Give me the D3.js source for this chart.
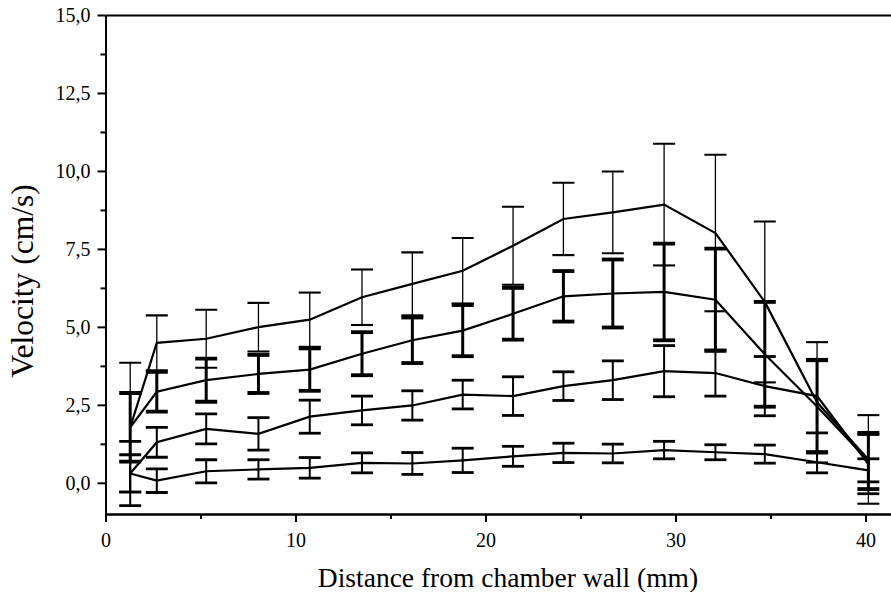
<!doctype html>
<html>

<head>
    <style>
        body {
            margin: 0;
            background: #fff;
        }

        svg text {
            font-family: "Liberation Serif", "DejaVu Serif", serif;
            fill: #000;
        }

        .axis path,
        .axis line {
            stroke: #000;
            stroke-width: 2px;
        }

        .axis text {
            font-size: 20px;
        }

        .series {
            fill: none;
            stroke: #000;
            stroke-width: 2.2px;
        }
    </style>
    <script src="https://d3js.org/d3.v7.min.js"></script>
</head>

<body>
    <script>
        // distance from wall (mm)
        const distance = [1.3, 2.7, 5.3, 8.05, 10.75, 13.5, 16.15, 18.8, 21.45, 24.1, 26.7, 29.4, 32.1, 34.7, 37.45, 40.15]

        // mean velocity (cm/s) and error per series, top to bottom
        const velA = [1.78, 4.49, 4.62, 4.99, 5.23, 5.95, 6.38, 6.80, 7.60, 8.46, 8.67, 8.92, 8.01, 5.80, 2.58, 0.75]
        const errA = [2.07, 0.88, 0.93, 0.78, 0.87, 0.89, 1.01, 1.05, 1.25, 1.16, 1.31, 1.95, 2.51, 2.58, 1.93, 1.42]

        const velB = [1.78, 2.92, 3.29, 3.49, 3.63, 4.14, 4.57, 4.88, 5.42, 5.98, 6.07, 6.12, 5.87, 4.12, 2.45, 0.70]
        const errB = [1.10, 0.64, 0.69, 0.61, 0.68, 0.69, 0.73, 0.82, 0.83, 0.81, 1.09, 1.55, 1.64, 1.68, 1.48, 0.90]

        const velC = [0.30, 1.30, 1.73, 1.57, 2.12, 2.32, 2.48, 2.83, 2.78, 3.10, 3.29, 3.58, 3.52, 3.10, 2.78, 0.60]
        const errC = [1.03, 0.48, 0.48, 0.52, 0.53, 0.46, 0.47, 0.46, 0.62, 0.46, 0.62, 0.82, 0.74, 0.95, 1.18, 0.95]

        const velD = [0.30, 0.07, 0.37, 0.43, 0.48, 0.64, 0.62, 0.72, 0.85, 0.96, 0.94, 1.05, 0.98, 0.92, 0.66, 0.40]
        const errD = [0.60, 0.38, 0.37, 0.31, 0.33, 0.32, 0.35, 0.39, 0.32, 0.31, 0.30, 0.28, 0.24, 0.29, 0.34, 0.37]

        const xMajor = [0, 10, 20, 30, 40]
        const xMinor = [5, 15, 25, 35]
        const yMajor = [0, 2.5, 5, 7.5, 10, 12.5, 15]
        const yMinor = [1.25, 3.75, 6.25, 8.75, 11.25, 13.75]

        const series = [
            { vel: velA, err: errA, barWidth: 1.3 },
            { vel: velB, err: errB, barWidth: 3 },
            { vel: velC, err: errC, barWidth: 2 },
            { vel: velD, err: errD, barWidth: 2 },
        ]

        const W = 891, H = 592
        const plotLeft = 105.5, plotRight = 903.5, plotTop = 15, plotBottom = 514
        const serif = '"Liberation Serif", "DejaVu Serif", serif'

        const svg = d3.select("body").append("svg")
            .attr("width", W)
            .attr("height", H)

        const x = d3.scaleLinear().domain([0, 42]).range([plotLeft, plotRight])
        const y = d3.scaleLinear().domain([-1, 15]).range([plotBottom, plotTop])

        const comma = d3.formatLocale({ decimal: ",", thousands: ".", grouping: [3], currency: ["", ""] }).format(".1f")

        svg.append("defs").append("clipPath").attr("id", "plot")
            .append("rect")
            .attr("x", plotLeft).attr("y", plotTop)
            .attr("width", plotRight - plotLeft).attr("height", plotBottom - plotTop)

        // minor ticks first, then major with labels
        svg.append("g").attr("class", "axis")
            .attr("transform", `translate(0,${plotBottom})`)
            .call(d3.axisBottom(x).tickValues(xMinor).tickSize(5).tickSizeOuter(0).tickFormat(""))
        svg.append("g").attr("class", "axis")
            .attr("transform", `translate(0,${plotBottom})`)
            .call(d3.axisBottom(x).tickValues(xMajor).tickSize(8).tickSizeOuter(0).tickPadding(11))
            .attr("font-family", serif)

        svg.append("g").attr("class", "axis")
            .attr("transform", `translate(${plotLeft},0)`)
            .call(d3.axisLeft(y).tickValues(yMinor).tickSize(5).tickSizeOuter(0).tickFormat(""))
        svg.append("g").attr("class", "axis")
            .attr("transform", `translate(${plotLeft},0)`)
            .call(d3.axisLeft(y).tickValues(yMajor).tickSize(8).tickSizeOuter(0).tickPadding(7).tickFormat(comma))
            .attr("font-family", serif)

        // top frame line
        svg.append("g").attr("class", "axis")
            .attr("transform", `translate(0,${plotTop})`)
            .call(d3.axisTop(x).tickValues([]).tickSizeOuter(0))

        const plot = svg.append("g").attr("clip-path", "url(#plot)")

        const line = d3.line()
            .x((d, i) => x(distance[i]))
            .y(d => y(d))

        series.forEach(s => {
            const g = plot.append("g")
            const pts = distance.map((d, i) => ({ x: d, v: s.vel[i], e: s.err[i] }))

            g.selectAll("line.bar")
                .data(pts)
                .enter()
                .append("line")
                .attr("x1", d => x(d.x))
                .attr("x2", d => x(d.x))
                .attr("y1", d => y(d.v + d.e))
                .attr("y2", d => y(d.v - d.e))
                .attr("stroke", "#000")
                .attr("stroke-width", s.barWidth)

            const caps = pts.flatMap(d => [{ x: d.x, v: d.v + d.e }, { x: d.x, v: d.v - d.e }])
            g.selectAll("line.cap")
                .data(caps)
                .enter()
                .append("line")
                .attr("x1", d => x(d.x) - 11)
                .attr("x2", d => x(d.x) + 11)
                .attr("y1", d => y(d.v))
                .attr("y2", d => y(d.v))
                .attr("stroke", "#000")
                .attr("stroke-width", s.barWidth + 0.8)

            g.append("path")
                .attr("class", "series")
                .attr("d", line(s.vel))
        })

        svg.append("text")
            .attr("x", 508)
            .attr("y", 587)
            .attr("text-anchor", "middle")
            .style("font-size", "27.5px")
            .text("Distance from chamber wall (mm)")

        svg.append("text")
            .attr("transform", "translate(33,281) rotate(-90)")
            .attr("text-anchor", "middle")
            .style("font-size", "31.5px")
            .text("Velocity (cm/s)")
    </script>
</body>

</html>
